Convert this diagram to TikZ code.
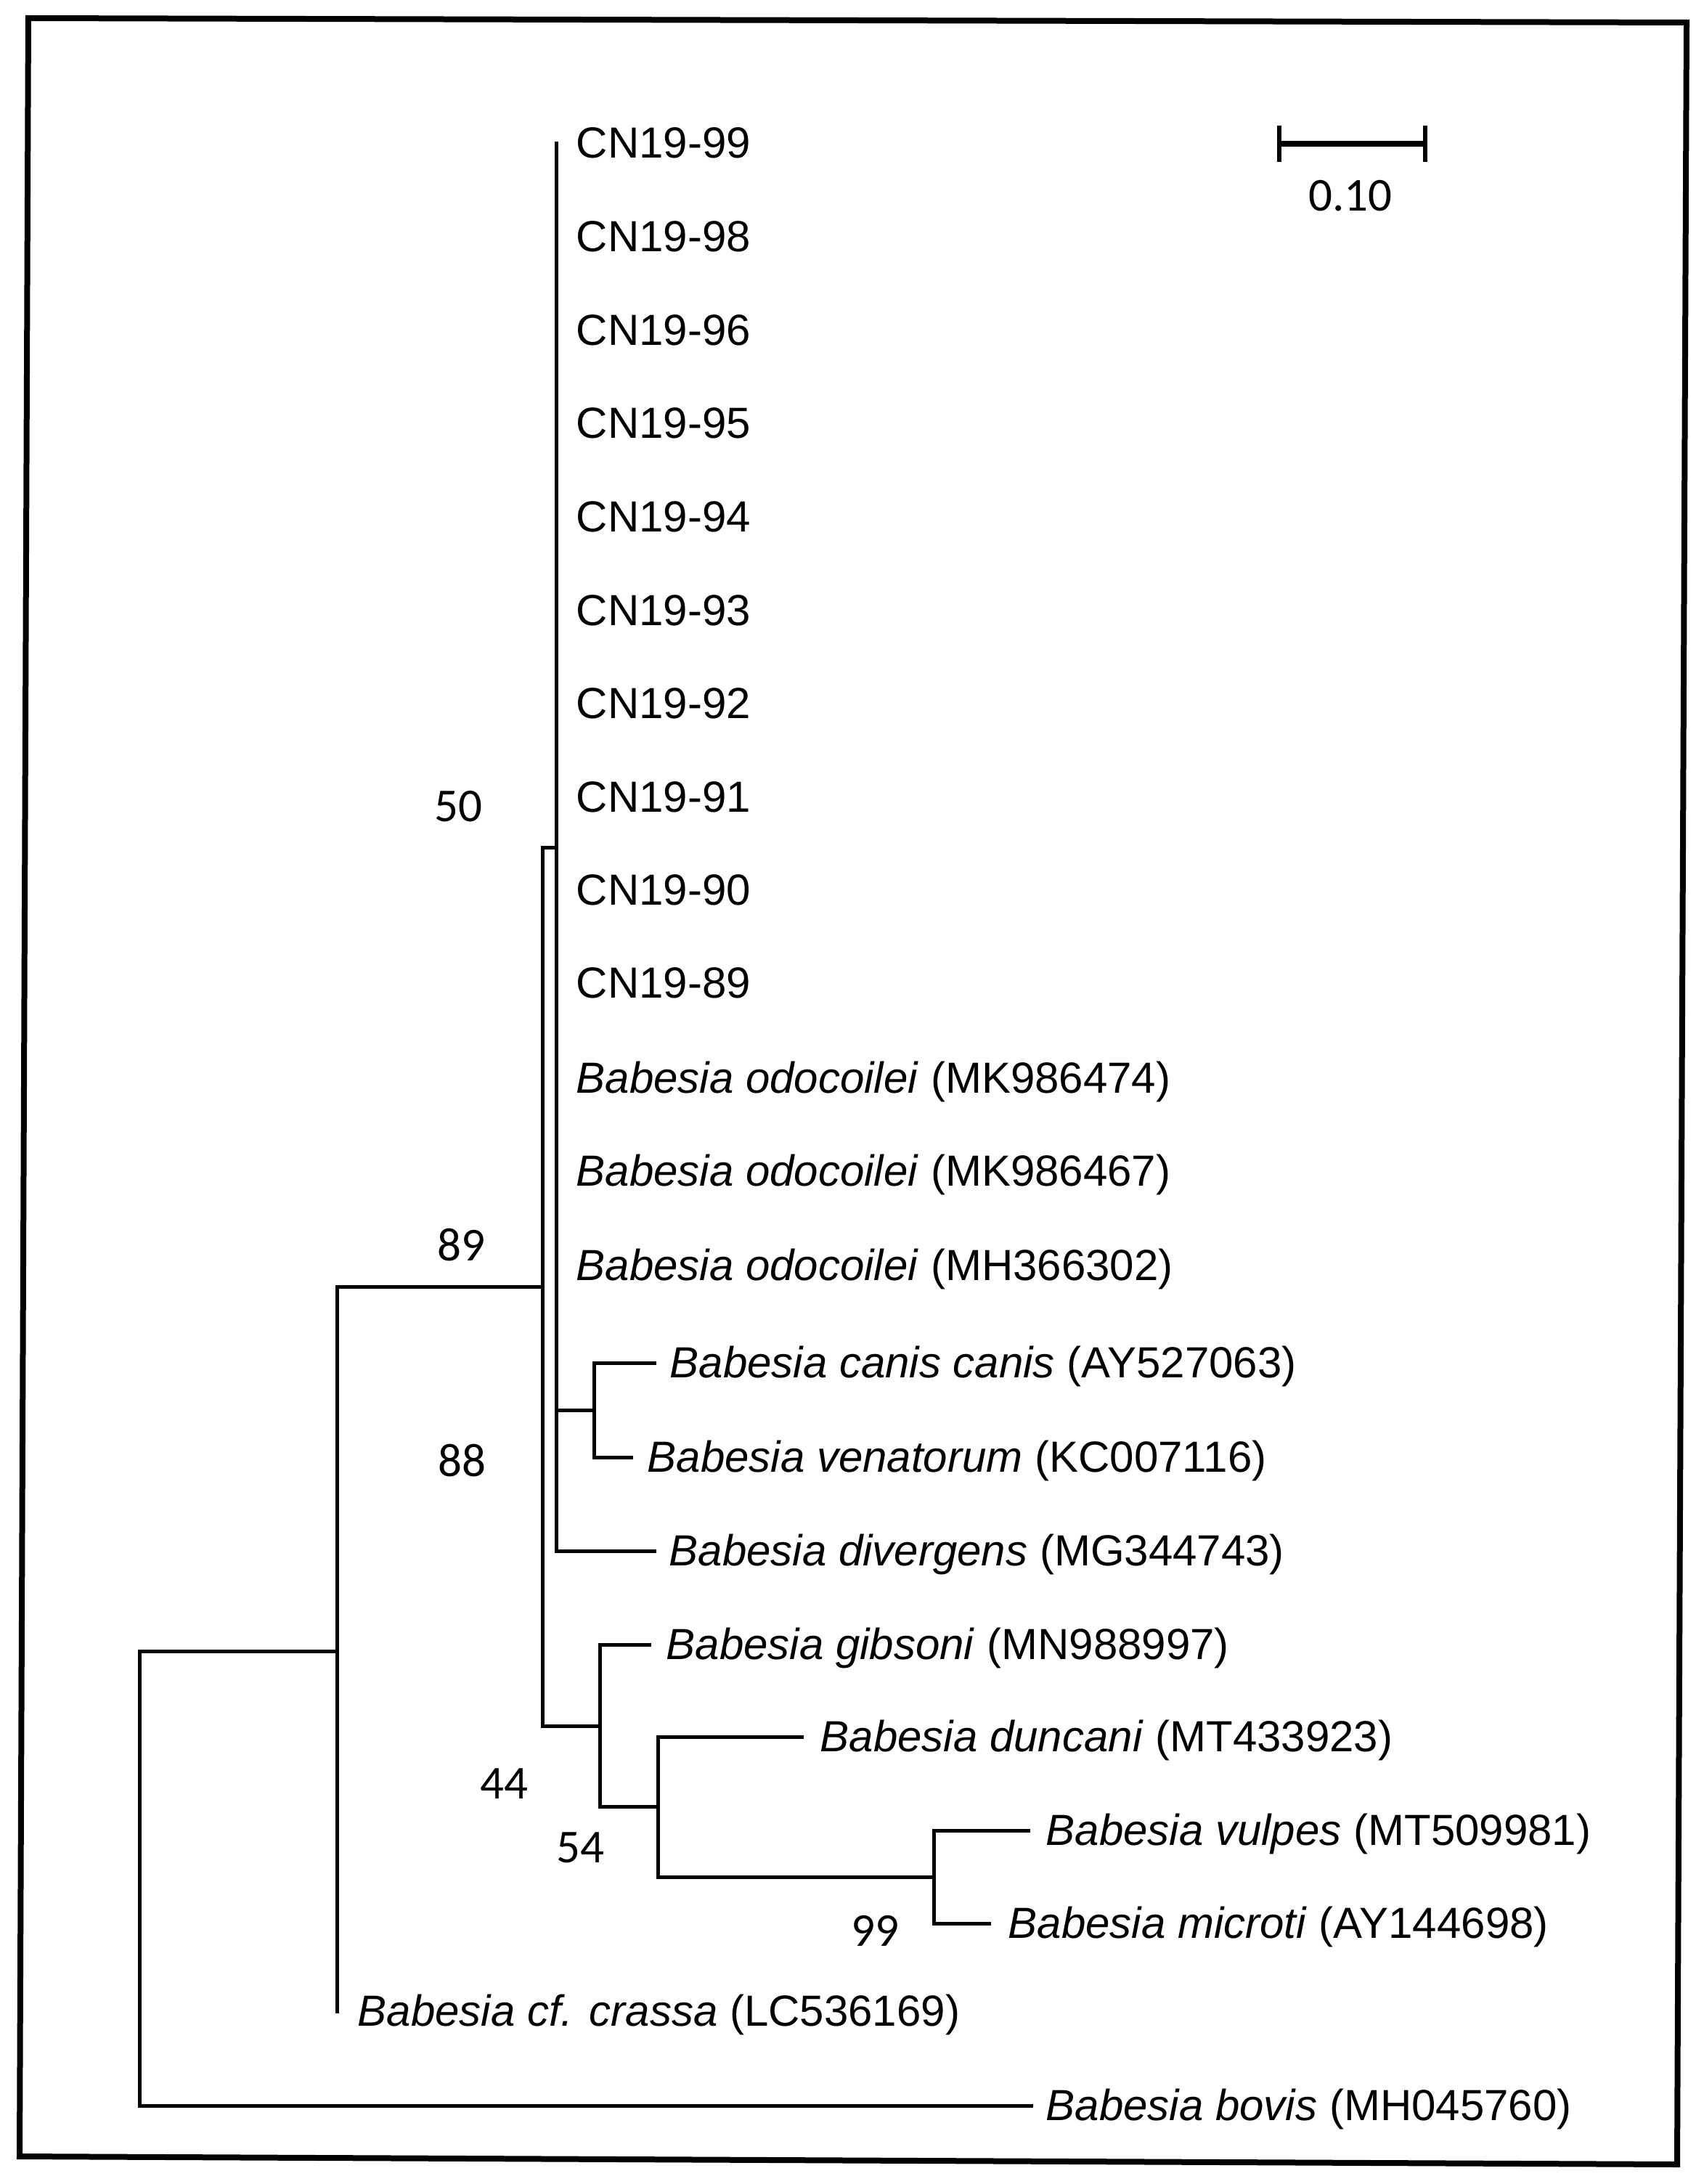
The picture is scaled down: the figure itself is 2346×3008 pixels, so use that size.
\documentclass[tikz,border=0pt]{standalone}
\usepackage{fontspec}
\setmainfont{Liberation Sans}
\newfontfamily\bsfont{Carlito}
\begin{document}
\begin{tikzpicture}[x=0.25pt,y=-0.25pt,
  br/.style={line width=1.25pt, line cap=rect, line join=miter},
  frame/.style={line width=2pt, line join=miter},
  leaf/.style={anchor=base west, inner sep=0pt, font=\fontsize{15pt}{17pt}\selectfont},
  boot/.style={anchor=center, inner sep=0pt, font=\bsfont\fontsize{16.25pt}{19pt}\selectfont},
]
\useasboundingbox (0,0) rectangle (2346,3008);
% frame
\coordinate (fTL) at (39,25);
\coordinate (fTR) at (2323,31);
\coordinate (fBR) at (2310,2981);
\coordinate (fBL) at (27,2970);
\draw[frame] (fTL) -- (fTR) -- (fBR) -- (fBL) -- cycle;

% leaf labels
\node[leaf] (l99) at (793,218) {CN19-99};
\node[leaf] (l98) at (793,346) {CN19-98};
\node[leaf] (l96) at (793,475) {CN19-96};
\node[leaf] (l95) at (793,603) {CN19-95};
\node[leaf] (l94) at (793,732) {CN19-94};
\node[leaf] (l93) at (793,861) {CN19-93};
\node[leaf] (l92) at (793,989) {CN19-92};
\node[leaf] (l91) at (793,1118) {CN19-91};
\node[leaf] (l90) at (793,1246) {CN19-90};
\node[leaf] (l89) at (793,1374) {CN19-89};
\node[leaf] (lod1) at (793,1505) {\textit{Babesia odocoilei} (MK986474)};
\node[leaf] (lod2) at (793,1633) {\textit{Babesia odocoilei} (MK986467)};
\node[leaf] (lod3) at (793,1763) {\textit{Babesia odocoilei} (MH366302)};
\node[leaf] (lcan) at (922,1897) {\textit{Babesia canis canis} (AY527063)};
\node[leaf] (lven) at (891,2027) {\textit{Babesia venatorum} (KC007116)};
\node[leaf] (ldiv) at (921,2156) {\textit{Babesia divergens} (MG344743)};
\node[leaf] (lgib) at (917,2285) {\textit{Babesia gibsoni} (MN988997)};
\node[leaf] (ldun) at (1129,2412) {\textit{Babesia duncani} (MT433923)};
\node[leaf] (lvul) at (1440,2541) {\textit{Babesia vulpes} (MT509981)};
\node[leaf] (lmic) at (1388,2669) {\textit{Babesia microti} (AY144698)};
\node[leaf] (lcra) at (492,2790) {\textit{Babesia cf. crassa} (LC536169)};
\node[leaf] (lbov) at (1440,2920) {\textit{Babesia bovis} (MH045760)};

% tips
\coordinate (t99) at (766,198);
\coordinate (tcan) at (901,1877);
\coordinate (tven) at (869,2007);
\coordinate (tdiv) at (901,2136);
\coordinate (tgib) at (894,2265);
\coordinate (tdun) at (1104,2392);
\coordinate (tvul) at (1416,2521);
\coordinate (tmic) at (1362,2649);
\coordinate (tcra) at (464,2770);
\coordinate (tbov) at (1420,2900);

% internal nodes
\coordinate (B) at (766,1167);
\coordinate (D) at (818,1942);
\coordinate (A) at (747,1772);
\coordinate (C) at (826,2377);
\coordinate (E) at (906,2488);
\coordinate (F) at (1286,2585);
\coordinate (N89) at (464,2274);
\coordinate (R) at (192,2587);

% branches
\draw[br] (t99) -| (B) |- (tdiv);
\draw[br] (B |- D) -- (D);
\draw[br] (tcan) -| (D) |- (tven);
\draw[br] (B) -| (A) |- (C);
\draw[br] (tgib) -| (C) |- (E);
\draw[br] (tdun) -| (E) |- (F);
\draw[br] (tvul) -| (F) |- (tmic);
\draw[br] (A) -| (N89) |- (tcra);
\draw[br] (N89) -| (R) |- (tbov);

% bootstrap values
\node[boot] (b50) at (631,1111) {50};
\node[boot] (b89) at (635,1715) {89};
\node[boot] (b88) at (636,2012) {88};
\node[boot] (b44) at (694,2457) {44};
\node[boot] (b54) at (799,2545) {54};
\node[boot] (b99) at (1205,2659) {99};

% scale bar
\coordinate (sL) at (1762,198);
\coordinate (sR) at (1963,198);
\draw[line width=2pt] (sL) -- (sR);
\draw[line width=1.5pt] ([yshift=6.25pt]sL) -- ([yshift=-6.25pt]sL);
\draw[line width=1.5pt] ([yshift=6.25pt]sR) -- ([yshift=-6.25pt]sR);
\node[boot] (slab) at (1860,270) {0.10};
\end{tikzpicture}
\end{document}
